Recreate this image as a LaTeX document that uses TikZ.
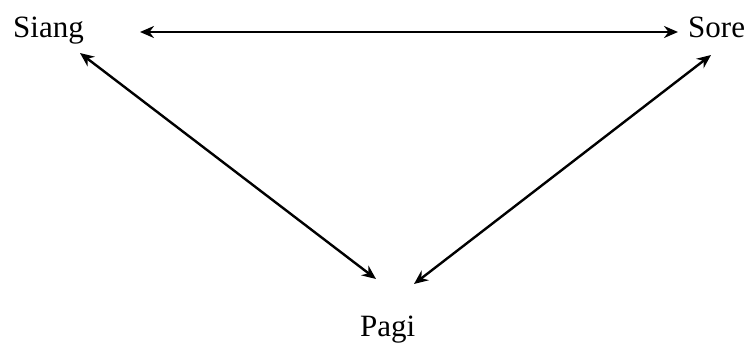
\documentclass[tikz,border=0pt]{standalone}
\usepackage{fontspec}
\setmainfont{Liberation Serif}
\usetikzlibrary{arrows.meta}
\begin{document}
\begin{tikzpicture}[x=1pt,y=-1pt,
  lbl/.style={inner sep=0pt,anchor=base west,font=\fontsize{31}{36}\selectfont},
  link/.style={line width=2.4pt,{Stealth[length=14pt,width=12pt]}-{Stealth[length=14pt,width=12pt]}}]
\useasboundingbox (0,0) rectangle (745,343);
\node[lbl] (siang) at (13,37) {Siang};
\node[lbl] (sore) at (688,37) {Sore};
\node[lbl] (pagi) at (360,336) {Pagi};
\coordinate (h1) at (140,32);
\coordinate (h2) at (678,32);
\coordinate (l1) at (80,53);
\coordinate (l2) at (376,279);
\coordinate (r1) at (711,55);
\coordinate (r2) at (414,284);
\draw[link] (h1) -- (h2);
\draw[link] (l1) -- (l2);
\draw[link] (r1) -- (r2);
\end{tikzpicture}
\end{document}
